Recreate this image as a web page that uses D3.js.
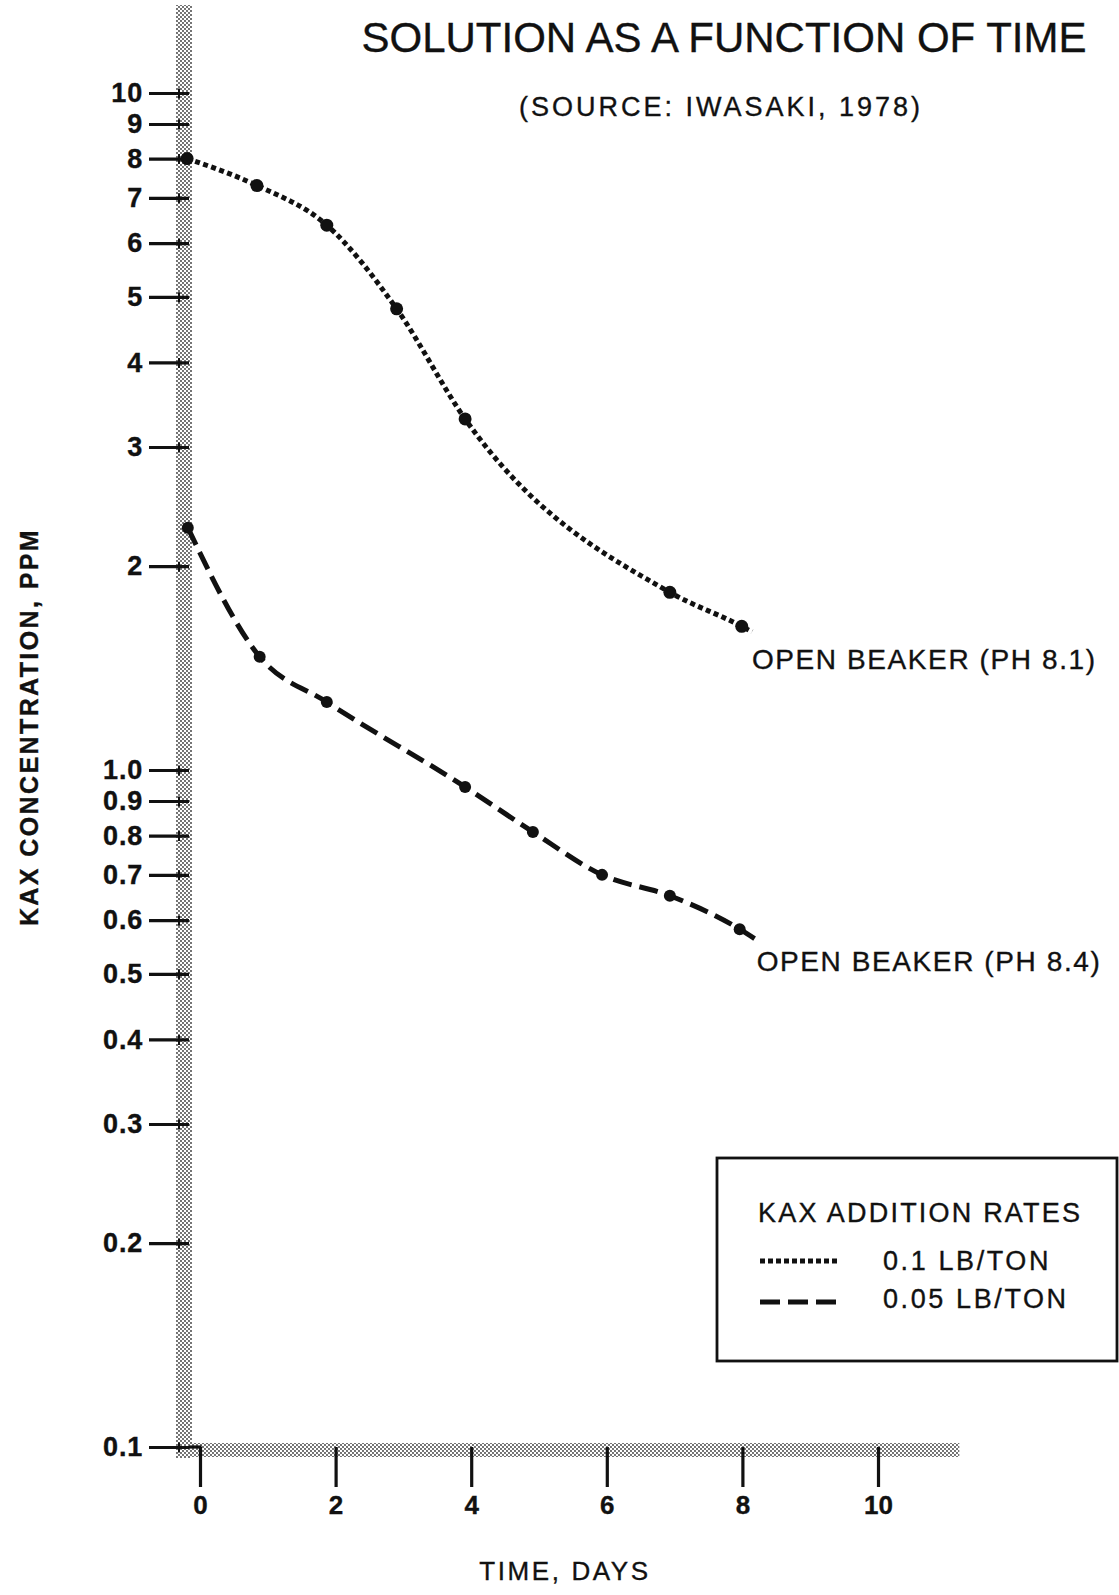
<!DOCTYPE html>
<html lang="en">
  <head>
    <meta charset="utf-8">
    <title>KAX concentration in solution vs time</title>
    <script src="https://d3js.org/d3.v7.js"></script>
    <style>
      body { margin: 0; background: white; }
      text { font-family: "Liberation Sans", Arial, sans-serif; fill: #111; stroke: #111; stroke-width: 0.35px; }
    </style>
  </head>
  <body>
    <script>
      // tick values
      const yTicks = [10, 9, 8, 7, 6, 5, 4, 3, 2, 1.0, 0.9, 0.8, 0.7, 0.6, 0.5, 0.4, 0.3, 0.2, 0.1];
      const yTickLabels = ["10", "9", "8", "7", "6", "5", "4", "3", "2",
                           "1.0", "0.9", "0.8", "0.7", "0.6", "0.5", "0.4", "0.3", "0.2", "0.1"];
      const xTicks = [0, 2, 4, 6, 8, 10];

      // 0.1 lb/ton, open beaker pH 8.1 (dotted)
      const dotDays = [-0.19, 0.84, 1.87, 2.9, 3.91, 6.93, 7.99];
      const dotPpm  = [8.0, 7.3, 6.38, 4.8, 3.3, 1.83, 1.63];
      const dotTail = [8.14, 1.60];

      // 0.05 lb/ton, open beaker pH 8.4 (dashed)
      const dashDays = [-0.18, 0.88, 1.87, 3.91, 4.91, 5.93, 6.93, 7.96];
      const dashPpm  = [2.28, 1.47, 1.26, 0.944, 0.81, 0.70, 0.652, 0.582];
      const dashTail = [8.21, 0.561];

      const w = 1119;
      const h = 1595;

      const x = d3.scaleLinear().domain([0, 10]).range([200, 878]);
      const y = d3.scaleLog().domain([0.1, 10]).range([1447, 93]);

      // add svg

      const svg = d3.select("body")
                    .append("svg")
                    .attr("width", w)
                    .attr("height", h);

      svg.append("rect")
         .attr("width", w)
         .attr("height", h)
         .attr("fill", "white");

      // halftone pattern for the axis bands
      const pat = svg.append("defs").append("pattern")
                     .attr("id", "dots")
                     .attr("width", 4)
                     .attr("height", 4)
                     .attr("patternUnits", "userSpaceOnUse");
      pat.append("rect").attr("width", 4).attr("height", 4).attr("fill", "#fff");
      pat.append("circle").attr("cx", 1).attr("cy", 1).attr("r", 0.9).attr("fill", "#333");
      pat.append("circle").attr("cx", 3).attr("cy", 3).attr("r", 0.9).attr("fill", "#333");

      // axis bands

      svg.append("rect")
         .attr("x", x(0) - 24)
         .attr("y", 5)
         .attr("width", 16)
         .attr("height", y(0.1) + 11 - 5)
         .attr("fill", "url(#dots)");

      svg.append("rect")
         .attr("x", x(0) - 24)
         .attr("y", y(0.1) - 4)
         .attr("width", x(11.2) - x(0) + 24)
         .attr("height", 14)
         .attr("fill", "url(#dots)");

      // y axis

      const yAxis = svg.append("g")
         .attr("transform", "translate(189, 0)")
         .call(d3.axisLeft(y)
                 .tickValues(yTicks)
                 .tickFormat((d, i) => yTickLabels[i])
                 .tickSize(40)
                 .tickPadding(6));
      yAxis.select(".domain").remove();
      yAxis.selectAll(".tick line").attr("stroke", "#111").attr("stroke-width", 3.2);
      yAxis.selectAll(".tick text")
           .attr("font-size", 27)
           .attr("font-weight", "bold")
           .attr("letter-spacing", 0.8)
           .attr("font-family", "'Liberation Sans', Arial, sans-serif")
           .attr("fill", "#111");
      yAxis.selectAll(".tick").append("line")
           .attr("x1", -10).attr("x2", -10)
           .attr("y1", -5).attr("y2", 5)
           .attr("stroke", "#111")
           .attr("stroke-width", 2);

      // x axis

      const xAxis = svg.append("g")
         .attr("transform", `translate(0, ${y(0.1)})`)
         .call(d3.axisBottom(x)
                 .tickValues(xTicks)
                 .tickSize(40)
                 .tickPadding(9));
      xAxis.select(".domain").remove();
      xAxis.selectAll(".tick line").attr("stroke", "#111").attr("stroke-width", 3.2);
      xAxis.selectAll(".tick text")
           .attr("font-size", 26)
           .attr("font-weight", "bold")
           .attr("font-family", "'Liberation Sans', Arial, sans-serif")
           .attr("fill", "#111");

      // corner joining the 0.1 tick to the 0 tick
      svg.append("line")
         .attr("x1", 189).attr("x2", x(0) + 1.6)
         .attr("y1", y(0.1)).attr("y2", y(0.1))
         .attr("stroke", "#111")
         .attr("stroke-width", 3.2);

      // curves

      const line = d3.line()
                     .x(d => x(d[0]))
                     .y(d => y(d[1]))
                     .curve(d3.curveMonotoneX);

      const dotPts = dotDays.map((d, i) => [d, dotPpm[i]]);
      const dashPts = dashDays.map((d, i) => [d, dashPpm[i]]);

      svg.append("path")
         .attr("d", line(dotPts.concat([dotTail])))
         .attr("fill", "none")
         .attr("stroke", "#111")
         .attr("stroke-width", 5)
         .attr("stroke-dasharray", "5 3.5");

      svg.append("path")
         .attr("d", line(dashPts.concat([dashTail])))
         .attr("fill", "none")
         .attr("stroke", "#111")
         .attr("stroke-width", 5)
         .attr("stroke-dasharray", "19 8");

      svg.selectAll(".dotpt")
         .data(dotPts)
         .enter().append("circle")
         .attr("cx", d => x(d[0]))
         .attr("cy", d => y(d[1]))
         .attr("r", 6.5)
         .attr("fill", "#111");

      svg.selectAll(".dashpt")
         .data(dashPts)
         .enter().append("circle")
         .attr("cx", d => x(d[0]))
         .attr("cy", d => y(d[1]))
         .attr("r", 6)
         .attr("fill", "#111");

      // curve labels

      svg.append("text")
         .attr("x", x(dotTail[0]))
         .attr("y", y(dotTail[1]) + 37)
         .attr("font-size", 28)
         .attr("letter-spacing", 1.6)
         .text("OPEN BEAKER (PH 8.1)");

      svg.append("text")
         .attr("x", x(dashTail[0]))
         .attr("y", y(dashTail[1]) + 31)
         .attr("font-size", 28)
         .attr("letter-spacing", 1.6)
         .text("OPEN BEAKER (PH 8.4)");

      // titles

      svg.append("text")
         .attr("x", 724)
         .attr("y", 52)
         .attr("text-anchor", "middle")
         .attr("font-size", 42)
         .text("SOLUTION AS A FUNCTION OF TIME");

      svg.append("text")
         .attr("x", 721)
         .attr("y", 116)
         .attr("text-anchor", "middle")
         .attr("font-size", 27)
         .attr("letter-spacing", 3)
         .text("(SOURCE: IWASAKI, 1978)");

      svg.append("text")
         .attr("transform", "translate(38, 727) rotate(-90)")
         .attr("text-anchor", "middle")
         .attr("font-size", 25)
         .attr("font-weight", "bold")
         .attr("letter-spacing", 2.4)
         .text("KAX CONCENTRATION, PPM");

      svg.append("text")
         .attr("x", 565)
         .attr("y", 1580)
         .attr("text-anchor", "middle")
         .attr("font-size", 26)
         .attr("letter-spacing", 2.6)
         .text("TIME, DAYS");

      // legend

      const lg = svg.append("g").attr("transform", "translate(717, 1158)");

      lg.append("rect")
        .attr("width", 400)
        .attr("height", 203)
        .attr("fill", "white")
        .attr("stroke", "#111")
        .attr("stroke-width", 2.8);

      lg.append("text")
        .attr("x", 41)
        .attr("y", 64)
        .attr("font-size", 27)
        .attr("letter-spacing", 2.2)
        .text("KAX ADDITION RATES");

      lg.append("line")
        .attr("x1", 43).attr("x2", 121)
        .attr("y1", 103).attr("y2", 103)
        .attr("stroke", "#111")
        .attr("stroke-width", 5)
        .attr("stroke-dasharray", "5 3");

      lg.append("line")
        .attr("x1", 43).attr("x2", 121)
        .attr("y1", 144).attr("y2", 144)
        .attr("stroke", "#111")
        .attr("stroke-width", 5)
        .attr("stroke-dasharray", "20 8");

      lg.append("text")
        .attr("x", 166)
        .attr("y", 112)
        .attr("font-size", 27)
        .attr("letter-spacing", 2.6)
        .text("0.1 LB/TON");

      lg.append("text")
        .attr("x", 166)
        .attr("y", 150)
        .attr("font-size", 27)
        .attr("letter-spacing", 2.6)
        .text("0.05 LB/TON");
    </script>
  </body>
</html>
